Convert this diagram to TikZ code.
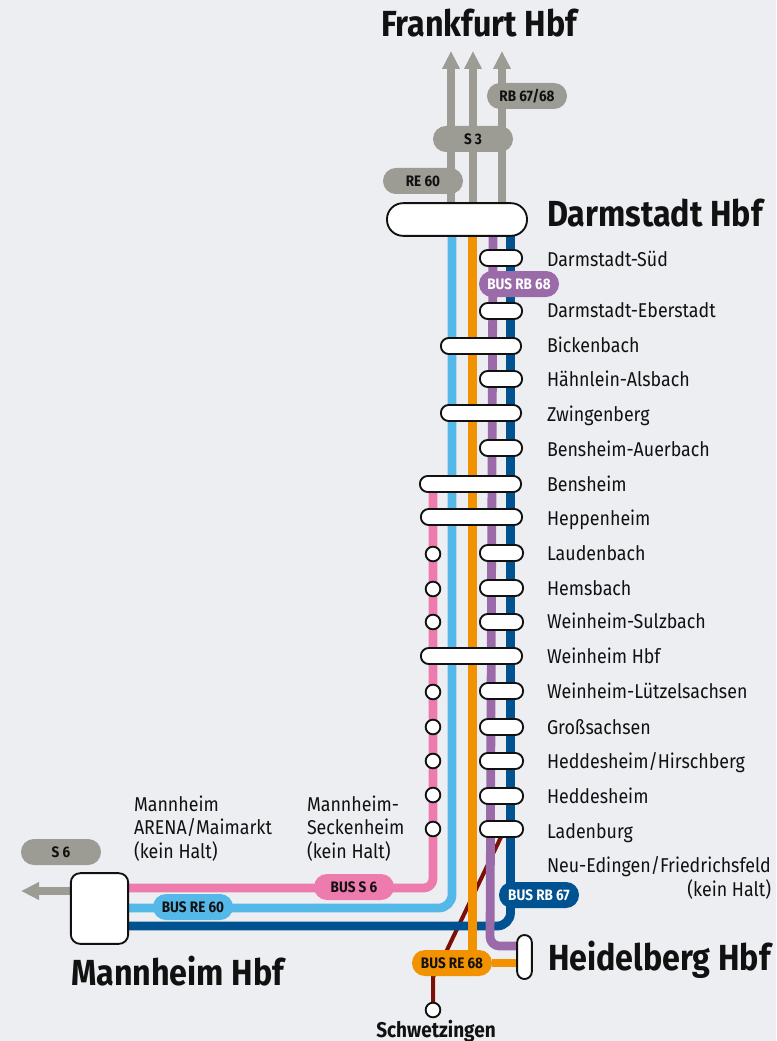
\documentclass[tikz,border=0pt]{standalone}
\usepackage{fontspec}
\setmainfont[FakeStretch=0.89]{Fira Sans}
\usetikzlibrary{backgrounds,arrows.meta}
\definecolor{bgc}{HTML}{EDEEF1}
\definecolor{pinkc}{HTML}{EE7BAE}
\definecolor{skyc}{HTML}{54B8E8}
\definecolor{orc}{HTML}{F39200}
\definecolor{purc}{HTML}{9B6AA8}
\definecolor{navc}{HTML}{005291}
\definecolor{gryc}{HTML}{9C9C94}
\definecolor{redc}{HTML}{7A1008}
\definecolor{inkc}{HTML}{111111}
\tikzset{
  every node/.style={text=inkc,inner sep=0pt,outer sep=0pt},
  linestyle/.style={line width=6.6pt,line join=round},
  stop/.style={draw=inkc,line width=1.4pt,fill=white,rectangle,rounded corners=5.8pt,minimum height=12pt},
  halt/.style={draw=inkc,line width=1.4pt,fill=white,circle,minimum size=11pt},
  hub/.style={draw=inkc,line width=1.4pt,fill=white,rectangle},
  pill/.style={rectangle,rounded corners=9.7pt,minimum width=60pt,minimum height=19.5pt,font=\fontsize{11.4pt}{12pt}\bfseries},
  stlabel/.style={anchor=base west,font=\fontsize{15pt}{17.6pt}\selectfont,align=left},
  city/.style={anchor=base west,font=\fontsize{27.2pt}{30pt}\bfseries},
  arrowline/.style={draw=gryc,line width=6.6pt,-{Triangle[length=13.5pt,width=12.5pt,fill=gryc]}}
}
\begin{document}
\begin{tikzpicture}[x=0.75pt,y=-0.75pt]
\useasboundingbox (0,0) rectangle (776,1041);
% hubs
\node[hub,rounded corners=12pt,minimum width=105pt,minimum height=24.5pt] (dar) at (457,219.5) {};
\node[hub,rounded corners=7pt,minimum width=43pt,minimum height=53pt] (man) at (99.5,908.5) {};
\node[hub,rounded corners=5.5pt,minimum width=11pt,minimum height=33pt] (hei) at (524.5,957) {};
% stops
\foreach \n/\xa/\xb/\yy in {a/479/523/258,b/479/523/311,c/440/522/346,d/479/523/379,e/440/522/413,f/479/523/448,g/419/522/484,h/420/523/517,i/479/524/553,j/479/524/588,k/479/524/622,l/420/523/656,m/479/524/691,n/479/524/727,o/479/524/761,p/479/524/796,q/479/524/829}{
  \pgfmathsetmacro\sw{(\xb-\xa)*0.75-1.4}
  \pgfmathsetmacro\cx{(\xa+\xb)/2}
  \node[stop,minimum width=\sw pt] (st\n) at (\cx,\yy) {};
}
\foreach \n/\yy in {i/554,j/589,k/622,m/692,n/727,o/761,p/795,q/829}{
  \node[halt] (h\n) at (433,\yy) {};
}
\node[halt] (sch) at (433,1010) {};
% pills
\node[pill,fill=gryc] (re60) at (423,181) {RE 60};
\node[pill,fill=gryc] (s3) at (473,139) {S 3};
\node[pill,fill=gryc] (rb6768) at (527,96) {RB 67/68};
\node[pill,fill=gryc] (s6) at (61,852) {S 6};
\node[pill,fill=purc,text=white] (busrb68) at (519,284) {BUS RB 68};
\node[pill,fill=navc,text=white] (busrb67) at (539,895) {BUS RB 67};
\node[pill,fill=pinkc] (buss6) at (354,887) {BUS S 6};
\node[pill,fill=skyc] (busre60) at (193,907) {BUS RE 60};
\node[pill,fill=orc] (busre68) at (452,963) {BUS RE 68};
% free ends
\coordinate (arrL) at (21,891);
\coordinate (arrA) at (451,51);
\coordinate (arrB) at (473,51);
\coordinate (arrC) at (502,51);
% labels
\node[anchor=base,font=\fontsize{27.2pt}{30pt}\bfseries] (tfra) at (479,37) {Frankfurt Hbf};
\node[city] (tdar) at (547,227) {Darmstadt Hbf};
\node[city] (thei) at (548,970) {Heidelberg Hbf};
\node[city] (tman) at (71,985) {Mannheim Hbf};
\node[anchor=base,font=\fontsize{16pt}{18pt}\bfseries] (tsch) at (436,1037) {Schwetzingen};
\foreach \n/\yy/\t in {a/266/{Darmstadt-Süd},b/317/{Darmstadt-Eberstadt},c/352/{Bickenbach},d/386/{Hähnlein-Alsbach},e/421/{Zwingenberg},f/456/{Bensheim-Auerbach},g/491/{Bensheim},h/525/{Heppenheim},i/560/{Laudenbach},j/595/{Hemsbach},k/628/{Weinheim-Sulzbach},l/663/{Weinheim Hbf},m/698/{Weinheim-Lützelsachsen},n/734/{Großsachsen},o/768/{Heddesheim/Hirschberg},p/803/{Heddesheim},q/838/{Ladenburg},r/872/{Neu-Edingen/Friedrichsfeld}}{
  \node[stlabel] (t\n) at (547,\yy) {\t};
}
\node[anchor=base east,font=\fontsize{15pt}{17pt}\selectfont] (tkein) at (771,896) {(kein Halt)};
\node[stlabel] (tarena) at (134,858) {Mannheim\\ARENA/Maimarkt\\(kein Halt)};
\node[stlabel] (tseck) at (307,858) {Mannheim-\\Seckenheim\\(kein Halt)};
% connectors
\begin{pgfonlayer}{background}
  \fill[bgc] (0,0) rectangle (776,1041);
  \draw[redc,line width=3pt,line join=round] (stq.south -| 501,0) -- (447,950) -- (433,977) -- (sch.north);
  \draw[linestyle,pinkc,rounded corners=7pt] (433,484) -- (433,888) -- (man.east |- 0,888);
  \draw[linestyle,skyc,rounded corners=10pt] (dar.south -| 452,0) -- (452,908) -- (man.east |- 0,908);
  \draw[linestyle,navc,rounded corners=10pt] (dar.south -| 510.5,0) -- (510.5,926) -- (man.east |- 0,926);
  \draw[linestyle,purc,rounded corners=7pt] (dar.south -| 493,0) -- (490,946) -- (hei.west |- 0,946);
  \draw[linestyle,orc] (dar.south -| 472.5,0) -- (472.5,963);
  \draw[linestyle,orc] (busre68.east) -- (hei.west |- busre68.east);
  \draw[arrowline] (dar.north -| arrA) -- (arrA);
  \draw[arrowline] (dar.north -| arrB) -- (arrB);
  \draw[arrowline] (dar.north -| arrC) -- (arrC);
  \draw[arrowline] (man.west |- arrL) -- (arrL);
\end{pgfonlayer}
\end{tikzpicture}
\end{document}
